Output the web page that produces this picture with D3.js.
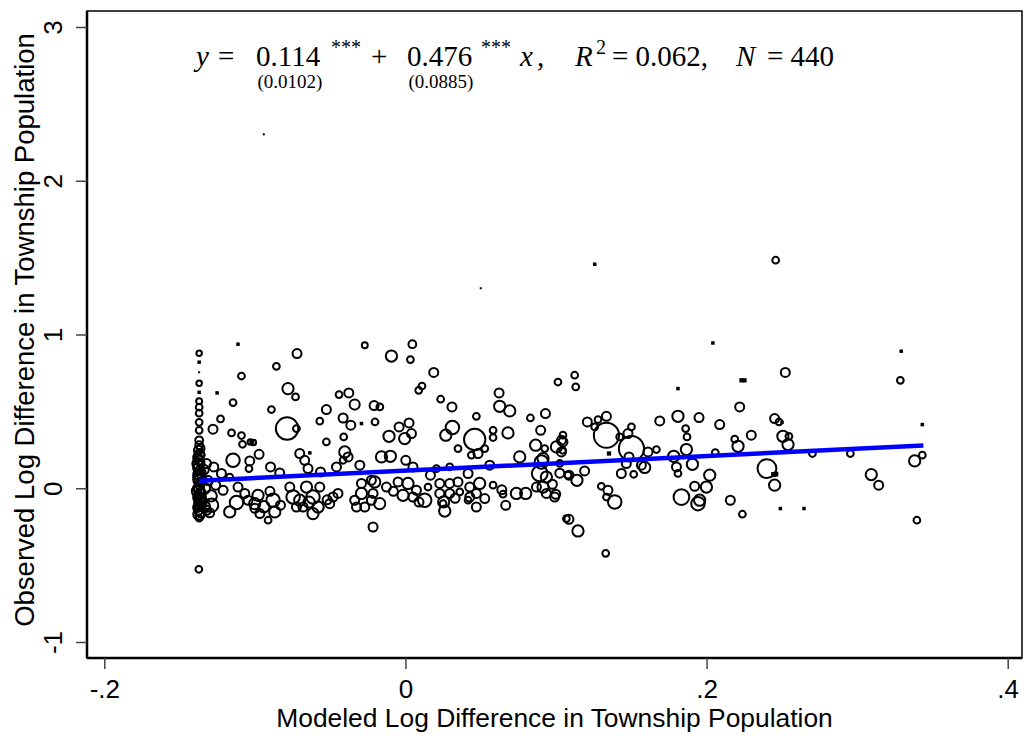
<!DOCTYPE html>
<html><head><meta charset="utf-8">
<script src="https://cdn.jsdelivr.net/npm/d3@7"></script>
<style>body{margin:0;background:#fff}svg{display:block}</style>
</head><body>
<script>
// ---------- data ----------
const xTicks = [-0.2, 0, 0.2, 0.4];
const xTickLabels = ["-.2", "0", ".2", ".4"];
const yTicks = [-1, 0, 1, 2, 3];
const yTickLabels = ["-1", "0", "1", "2", "3"];
const xTitle = "Modeled Log Difference in Township Population";
const yTitle = "Observed Log Difference in Township Population";
const fitX = [-0.137, 0.344];
const fitY = [0.049, 0.278];
// [modeled x, observed y, population weight]
const townships = [
[-0.137,0.878,6],[-0.137,0.820,2],[-0.137,0.754,0.5],[-0.137,0.683,6],[-0.137,0.624,2],[-0.137,0.566,7],[-0.137,0.527,9],[-0.137,0.488,9],[-0.137,0.429,9],[-0.137,0.377,9],
[-0.137,0.312,12],[-0.137,0.280,12],[-0.1375,0.247,16],[-0.1365,0.215,16],[-0.137,0.182,16],[-0.1375,0.150,20],[-0.1365,0.117,16],[-0.137,0.085,16],[-0.1375,0.052,20],[-0.1365,0.020,16],
[-0.137,-0.013,20],[-0.1375,-0.046,16],[-0.1365,-0.078,25],[-0.137,-0.111,20],[-0.1375,-0.143,16],[-0.1365,-0.176,16],[-0.137,-0.195,9],
[-0.136,0.26,12],[-0.138,0.2,16],[-0.136,0.165,12],[-0.138,0.13,16],[-0.136,0.1,20],[-0.138,0.07,16],[-0.136,0.035,16],[-0.138,0.0,16],[-0.136,-0.03,20],
[-0.138,-0.06,16],[-0.136,-0.095,20],[-0.138,-0.125,16],[-0.136,-0.16,16],[-0.1335,-0.12,25],[-0.1335,0.0,25],[-0.134,0.12,20],
[-0.131,0.05,16],[-0.129,-0.05,25],[-0.126,0.02,16],[-0.13,-0.16,16],
[-0.1378,0.16,25],[-0.1362,0.06,30],[-0.1378,-0.02,30],[-0.1362,-0.1,30],[-0.1372,-0.17,25],[-0.1368,0.22,20],[-0.1372,0.09,25],[-0.1366,-0.065,25],
[-0.1112,0.937,2],[-0.027,0.930,7],[-0.072,0.876,16],[-0.0857,0.793,9],[-0.1089,0.730,9],[-0.1251,0.620,2],[-0.078,0.648,25],[-0.073,0.594,9],[-0.1145,0.557,9],[-0.089,0.512,9],
[-0.1228,0.451,9],[-0.1278,0.384,16],[-0.1155,0.360,9],[-0.0786,0.388,100],[-0.0724,0.388,9],[-0.1089,0.343,9],[-0.1082,0.286,9],[-0.103,0.301,6],[-0.101,0.298,6],[-0.102,0.303,4],
[-0.0525,0.512,16],[-0.0441,0.609,9],[-0.0376,0.620,16],[-0.0337,0.544,20],[-0.0208,0.538,16],[-0.0414,0.457,16],[-0.0363,0.410,16],[-0.0292,0.421,2],[-0.0202,0.431,9],[-0.0569,0.436,9],
[-0.0525,0.301,9],[-0.041,0.334,9],[-0.0972,0.221,16],[-0.1145,0.182,36],[-0.1034,0.178,16],[-0.1039,0.128,9],[-0.0896,0.139,16],[-0.0835,0.100,16],[-0.0702,0.226,16],[-0.0635,0.230,2],
[-0.0669,0.182,16],[-0.0647,0.128,16],[-0.0564,0.106,16],[-0.0458,0.139,16],[-0.0403,0.236,25],[-0.0381,0.204,16],[-0.0303,0.150,16],[-0.0414,0.182,9],[-0.1273,0.139,16],[-0.1321,0.161,16],
[-0.1222,0.096,16],[-0.1167,0.073,9],[-0.1112,0.008,16],[-0.1067,-0.034,16],[-0.0979,-0.046,25],[-0.1122,-0.093,36],[-0.1001,-0.100,25],[-0.0879,-0.078,36],[-0.0868,-0.154,25],[-0.1167,-0.154,25],
[-0.0967,-0.165,16],[-0.0912,-0.208,9],[-0.1288,-0.111,36],[-0.1321,-0.143,16],[-0.1211,-0.013,16],[-0.1045,-0.078,16],[-0.0746,-0.057,36],[-0.0768,0.008,16],[-0.0702,-0.078,25],[-0.0657,0.008,25],
[-0.0614,-0.057,36],[-0.058,-0.122,25],[-0.0614,-0.165,25],[-0.068,-0.122,16],[-0.0569,0.008,16],[-0.0724,-0.122,16],[-0.0481,-0.057,16],[-0.0503,-0.100,16],[-0.0448,-0.034,16],[-0.0337,-0.078,16],
[-0.0325,-0.122,16],[-0.027,-0.122,16],[-0.0292,-0.034,25],[-0.0215,-0.034,16],[-0.0226,-0.078,16],[-0.0215,-0.252,16],[-0.0292,0.031,16],[-0.0226,0.052,16],
[-0.094,-0.12,25],[-0.083,-0.11,16],[-0.064,-0.09,25],[-0.052,-0.075,16],[-0.09,-0.02,16],[-0.1,-0.13,16],
[0.0046,0.937,12],[-0.0093,0.860,25],[0.0033,0.837,9],[0.0188,0.753,16],[0.011,0.665,9],[0.0088,0.637,9],[0.1013,0.691,9],[0.0234,0.579,9],[0.0309,0.529,16],[0.0622,0.620,16],
[0.0626,0.533,25],[0.0693,0.503,25],[-0.017,0.529,9],[0.0471,0.468,9],[0.083,0.457,9],[0.093,0.486,16],[0.0024,0.425,16],[-0.0042,0.399,16],[-0.0109,0.338,25],[-0.0005,0.323,25],
[0.004,0.356,16],[0.0312,0.395,36],[0.0268,0.345,25],[0.046,0.317,90],[0.0582,0.377,9],[0.0582,0.330,9],[0.0681,0.360,25],[0.0898,0.377,16],[0.0349,0.258,9],[0.0527,0.258,9],
[0.0482,0.226,16],[0.0438,0.215,9],[0.0865,0.280,25],[0.0925,0.258,9],[0.1003,0.269,25],[0.1036,0.312,16],[0.1046,0.345,9],[0.1036,0.236,16],[0.0759,0.204,25],[0.0914,0.193,25],
[-0.0159,0.204,25],[-0.01,0.208,25],[0.0002,0.182,16],[0.005,0.139,16],[0.0206,0.128,9],[0.0294,0.139,9],[0.056,0.150,16],[0.0416,0.096,16],[0.0892,0.096,49],[0.0914,0.008,25],
[0.108,0.085,9],[-0.0204,0.041,25],[-0.0126,0.008,16],[-0.0049,0.041,16],[0.0017,0.031,25],[0.0073,-0.013,16],[0.015,0.008,9],[0.0228,0.031,16],[0.0294,0.031,16],[0.0349,0.041,16],
[0.0493,0.031,25],[0.0582,0.020,9],[-0.0171,-0.100,25],[-0.0016,-0.046,25],[0.005,-0.057,16],[0.0128,-0.078,36],[0.0228,-0.034,16],[0.0294,-0.034,16],[0.025,-0.100,9],[0.0261,-0.148,25],
[0.0361,-0.024,9],[0.0427,-0.057,16],[0.0471,-0.122,16],[0.0527,-0.067,16],[0.0471,-0.034,16],[0.0416,-0.078,9],[0.0648,-0.039,9],[0.0666,-0.111,16],[0.0737,-0.034,25],[0.0799,-0.034,25],
[0.087,0.008,16],[0.0936,-0.034,16],[0.0991,-0.057,16],[0.1069,-0.197,9],
[0.0166,0.085,16],[0.0254,-0.089,25],[0.0427,0.008,16],[0.0903,0.171,36],[0.0936,0.073,25],[0.0976,0.026,16],[0.0998,-0.039,16],
[-0.008,-0.02,16],[0.009,-0.09,16],[0.033,-0.065,16],[0.064,-0.01,16],
[0.2042,0.945,2],[0.2232,0.702,3],[0.2252,0.702,3],[0.181,0.648,2],[0.1124,0.735,9],[0.1131,0.659,9],[0.222,0.529,16],[0.181,0.468,25],[0.195,0.460,16],[0.1689,0.438,16],
[0.2087,0.414,16],[0.2297,0.345,16],[0.2187,0.319,9],[0.2209,0.273,25],[0.1861,0.388,9],[0.187,0.334,9],[0.1866,0.252,25],[0.1208,0.431,16],[0.1257,0.399,9],[0.1279,0.447,9],
[0.1335,0.468,16],[0.1335,0.345,125],[0.1501,0.258,125],[0.1352,0.226,3],[0.1423,0.334,9],[0.1478,0.356,16],[0.1501,0.399,9],[0.1611,0.236,16],[0.1667,0.252,9],[0.1485,0.204,16],
[0.1467,0.161,16],[0.1567,0.150,16],[0.1589,0.135,25],[0.1782,0.208,25],[0.1906,0.156,25],[0.1434,0.096,16],[0.1516,0.091,9],[0.18,0.139,16],[0.181,0.096,9],[0.1025,0.161,9],
[0.1046,0.301,16],[0.1044,0.247,9],[0.1086,0.085,16],[0.1139,0.052,25],[0.119,0.113,16],[0.1301,0.013,9],[0.1345,-0.013,16],[0.139,-0.089,36],[0.1335,-0.057,9],[0.1833,-0.057,49],
[0.1943,-0.100,36],[0.1954,-0.078,25],[0.2021,0.085,25],[0.1999,0.008,25],[0.1921,0.013,16],[0.2158,-0.078,16],[0.2238,-0.169,9],[0.1086,-0.202,16],[0.1146,-0.278,25],[0.1025,0.098,16],
[0.2058,0.232,9],
[0.3293,0.891,2],[0.2523,0.753,16],[0.3287,0.702,9],[0.2452,0.453,16],[0.2481,0.431,9],[0.2501,0.429,2],[0.3433,0.414,2],[0.2507,0.338,25],[0.2547,0.338,9],[0.2541,0.284,25],
[0.2703,0.226,9],[0.2955,0.226,9],[0.3433,0.215,9],[0.3382,0.178,25],[0.2401,0.128,70],[0.2445,0.089,4],[0.246,0.092,4],[0.2452,0.020,25],[0.3094,0.089,25],[0.3143,0.020,16],
[0.249,-0.132,2],[0.2647,-0.132,2],[0.3397,-0.208,9],
[-0.0941,2.302,0.5],[0.050,1.301,0.5],[0.1257,1.457,2],[0.2459,1.483,9],[0.133,-0.423,9],[-0.1372,-0.527,9]
];
// equation annotation
const eqParts = [
  {t:"y", x:196, italic:true},
  {t:"=", x:218},
  {t:"0.114", x:256},
  {t:"***", x:331, sup:true},
  {t:"+", x:371},
  {t:"0.476", x:407},
  {t:"***", x:481, sup:true},
  {t:"x", x:520, italic:true},
  {t:",", x:537},
  {t:"R", x:575, italic:true},
  {t:"2", x:596, sup:true},
  {t:"= 0.062,", x:612},
  {t:"N", x:736, italic:true},
  {t:"= 440", x:767}
];
const eqSE = [{t:"(0.0102)", x:290},{t:"(0.0885)", x:441}];

// ---------- drawing ----------
const W = 1026, H = 738;
const frame = {left:87, right:1022, top:11, bottom:658};
const svg = d3.select("body").append("svg").attr("width", W).attr("height", H);

const x = d3.scaleLinear().domain([-0.2, 0.4]).range([104.3, 1007.7]);
const y = d3.scaleLinear().domain([-1, 3]).range([642, 27]);
const rScale = d3.scaleSqrt().domain([0, 144]).range([0, 13.5]);

// frame
svg.append("rect").attr("x", frame.left).attr("y", frame.top)
  .attr("width", frame.right - frame.left).attr("height", frame.bottom - frame.top)
  .attr("fill", "none").attr("stroke", "#000").attr("stroke-width", 1.5);

// axes
const sans = "Liberation Sans, Arial, Helvetica, sans-serif";
const xAxis = svg.append("g").attr("transform", `translate(0,${frame.bottom})`)
  .call(d3.axisBottom(x).tickValues(xTicks).tickSize(11).tickPadding(6)
        .tickFormat((d,i) => xTickLabels[i]));
xAxis.select(".domain").attr("d", `M${frame.left},0H${frame.right}`).attr("stroke","#000").attr("stroke-width",2.5);
xAxis.selectAll(".tick line").attr("stroke", "#444").attr("stroke-width", 1.5);
xAxis.selectAll(".tick text").attr("font-family", sans).attr("font-size", 26).attr("fill","#000")
  .attr("dy", null).attr("y", 40);

const yAxis = svg.append("g").attr("transform", `translate(${frame.left},0)`)
  .call(d3.axisLeft(y).tickValues(yTicks).tickSize(11).tickPadding(6)
        .tickFormat((d,i) => yTickLabels[i]));
yAxis.select(".domain").attr("d", `M0,${frame.top}V${frame.bottom}`).attr("stroke","#000").attr("stroke-width",2.5);
yAxis.selectAll(".tick line").attr("stroke", "#444").attr("stroke-width", 1.5);
yAxis.selectAll(".tick text").attr("font-family", sans).attr("font-size", 26).attr("fill","#000")
  .attr("x", null).attr("dy", null).attr("text-anchor", "middle")
  .attr("transform", "translate(-25,0) rotate(-90)");

// axis titles
svg.append("text").attr("x", (frame.left + frame.right) / 2).attr("y", 727)
  .attr("text-anchor", "middle").attr("font-family", sans).attr("font-size", 26.4).text(xTitle);
svg.append("text").attr("transform", `translate(34,330) rotate(-90)`)
  .attr("text-anchor", "middle").attr("font-family", sans).attr("font-size", 27.5).text(yTitle);

// points
const plot = svg.append("g");
const pts = townships.map(d => ({x: d[0], y: d[1], w: d[2]}));
plot.selectAll("circle.pt").data(pts.filter(d => d.w > 4)).join("circle")
  .attr("class", "pt")
  .attr("cx", d => x(d.x)).attr("cy", d => y(d.y)).attr("r", d => rScale(d.w))
  .attr("fill", "none").attr("stroke", "#000").attr("stroke-width", 2);
plot.selectAll("rect.pt").data(pts.filter(d => d.w <= 4)).join("rect")
  .attr("class", "pt")
  .attr("x", d => x(d.x) - Math.max(1, rScale(d.w) * 1.1))
  .attr("y", d => y(d.y) - Math.max(1, rScale(d.w) * 1.1))
  .attr("width", d => Math.max(2, rScale(d.w) * 2.2))
  .attr("height", d => Math.max(2, rScale(d.w) * 2.2))
  .attr("fill", "#000");

// fitted line
svg.append("path").datum(fitX.map((v, i) => [v, fitY[i]]))
  .attr("d", d3.line().x(d => x(d[0])).y(d => y(d[1])))
  .attr("stroke", "#0000ff").attr("stroke-width", 4.5).attr("fill", "none");

// equation
const serif = "Liberation Serif, Times New Roman, serif";
const eq = svg.append("g");
eqParts.forEach(p => {
  eq.append("text").attr("x", p.x).attr("y", p.sup ? 54 : 66)
    .attr("font-family", serif).attr("font-size", p.sup ? 20 : 29)
    .attr("font-style", p.italic ? "italic" : "normal").text(p.t);
});
eqSE.forEach(p => {
  eq.append("text").attr("x", p.x).attr("y", 88).attr("text-anchor", "middle")
    .attr("font-family", serif).attr("font-size", 19).text(p.t);
});
</script>
</body></html>
